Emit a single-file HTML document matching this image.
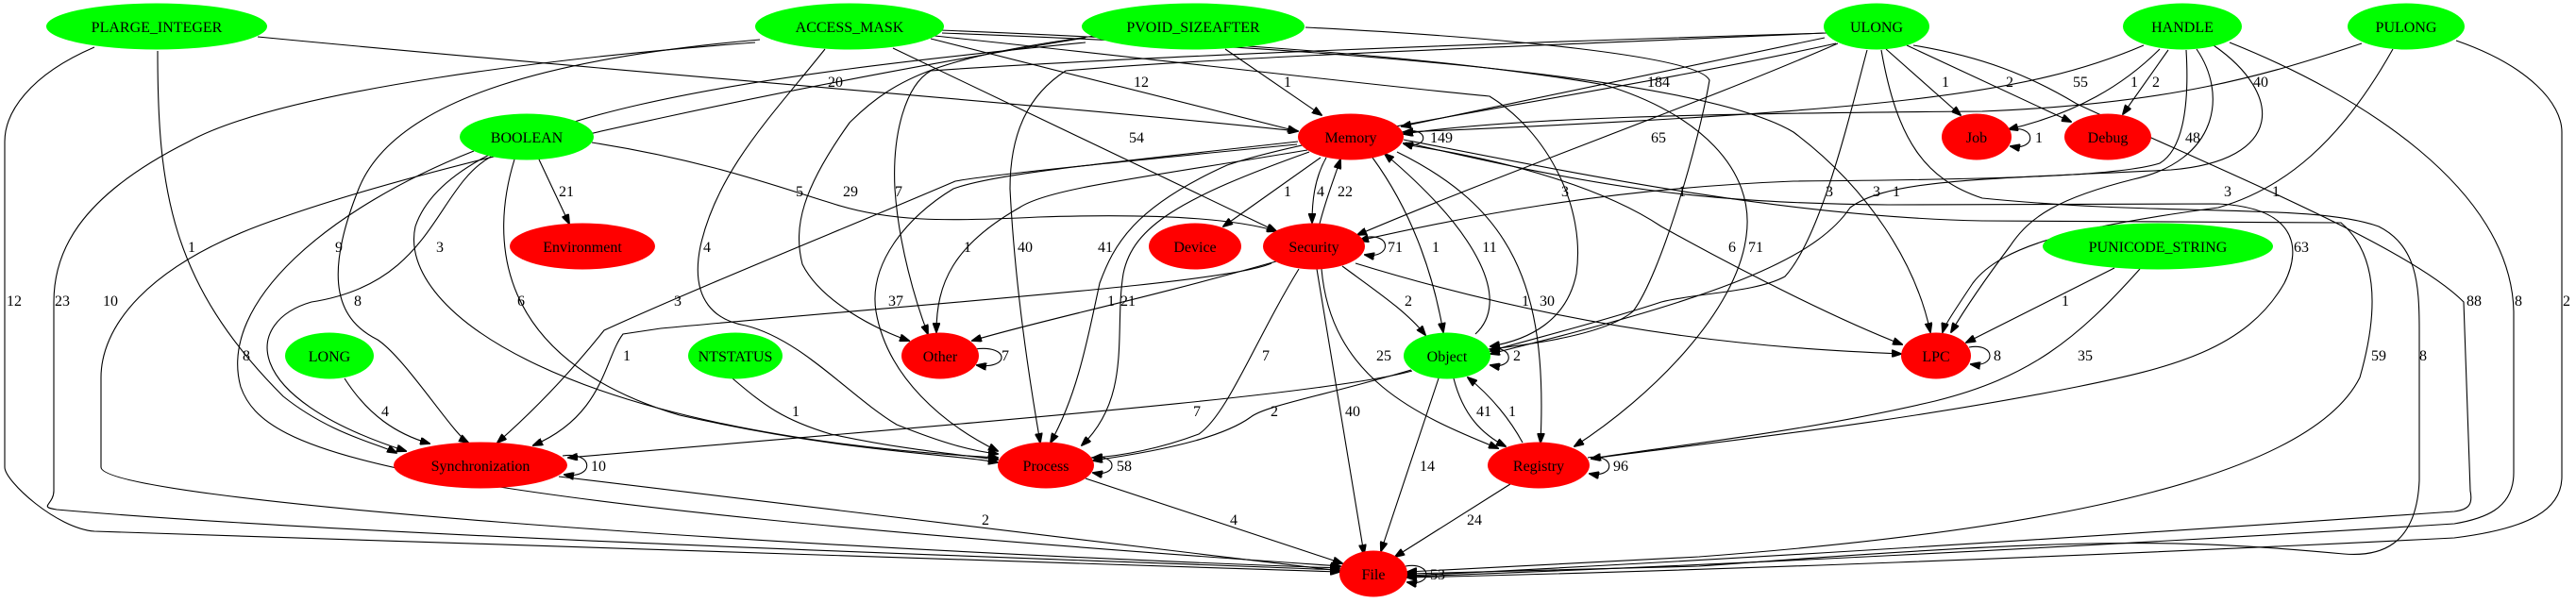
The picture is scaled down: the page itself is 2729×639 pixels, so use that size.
<!DOCTYPE html>
<html><head><meta charset="utf-8"><style>
html,body{margin:0;padding:0;background:#fff;}
svg{display:block;}
text{font-family:"Liberation Serif",serif;font-size:16px;fill:#000;}
.n text{font-size:16px;}
path{fill:none;stroke:#000;stroke-width:1.1;}
</style></head><body>
<svg width="2729" height="639" viewBox="0 0 2729 639" xmlns="http://www.w3.org/2000/svg">
<defs><marker id="a" markerWidth="11" markerHeight="8" refX="10" refY="4" orient="auto" markerUnits="userSpaceOnUse"><path d="M0,0 L11,4 L0,8 z" style="fill:#000;stroke:#000"/></marker></defs>
<g marker-end="url(#a)">
<path d="M100,50 C30,80 5,120 5,150 L5,495 C5,510 60,560 100,563 C600,580 1300,600 1419,606"/>
<path d="M800,45 C600,60 300,95 200,150 C80,210 57,270 57,320 L57,520 C57,535 40,537 60,540 C400,570 1200,595 1419,604"/>
<path d="M1150,40 C900,80 500,160 300,230 C150,280 107,350 107,400 L107,495 C107,530 800,580 1419,602"/>
<path d="M167,54 C167,200 180,300 300,420 C350,460 400,470 420,480"/>
<path d="M273,39 C700,80 1100,110 1375,139"/>
<path d="M805,42 C600,60 420,100 380,200 C340,300 360,340 400,360 C430,380 480,460 496,469"/>
<path d="M1150,45 C800,80 480,120 440,240 C420,330 600,460 1057,485"/>
<path d="M571,169 L603,237"/>
<path d="M520,166 C460,200 460,300 330,320 C260,340 250,420 430,478"/>
<path d="M502,160 C350,220 230,320 255,410 C280,480 400,530 1420,600"/>
<path d="M545,169 C520,250 520,380 720,440 C900,480 1000,480 1057,490"/>
<path d="M365,401 C390,440 420,460 455,470"/>
<path d="M596,483 C630,478 630,508 598,503"/>
<path d="M592,505 C900,540 1200,580 1420,605"/>
<path d="M1496,393 C1400,420 1000,450 602,485"/>
<path d="M1347,279 C1300,300 1000,320 700,348 L660,354 C640,380 640,440 565,472"/>
<path d="M1374,153 C1200,170 1050,185 1012,192 C900,240 750,300 640,350 C600,400 560,440 527,469"/>
<path d="M874,52 C820,120 760,180 742,261 C730,320 760,340 790,345 C850,360 900,420 950,450 C1000,470 1030,478 1057,481"/>
<path d="M1160,38 C1000,60 950,80 900,130 C850,200 840,240 850,280 C870,320 930,350 963,361"/>
<path d="M1935,35 C1600,45 1200,60 986,75 C960,90 945,140 948,200 C952,260 970,320 983,354"/>
<path d="M1932,35 C1600,50 1300,60 1129,75 C1090,100 1070,140 1070,200 C1075,300 1090,400 1102,469"/>
<path d="M1945,46 C1700,100 1400,140 1300,175 C1200,220 1180,260 1165,300 C1150,370 1140,420 1113,469"/>
<path d="M946,51 L1352,245"/>
<path d="M986,41 L1374,139"/>
<path d="M1298,52 L1400,122"/>
<path d="M627,151 C750,170 830,200 880,215 C940,235 1000,235 1100,230 C1250,225 1320,235 1352,245"/>
<path d="M1385,159 C1200,190 1110,200 1080,220 C1010,260 992,300 992,352"/>
<path d="M1375,150 C1150,175 1050,185 1010,200 C960,230 920,280 928,330 C940,400 1000,450 1057,478"/>
<path d="M1387,161 C1250,210 1200,240 1190,290 C1180,350 1200,420 1146,472"/>
<path d="M1352,277 C1200,320 1100,340 1030,361"/>
<path d="M1033,370 C1070,365 1070,392 1035,387"/>
<path d="M1376,285 C1330,360 1300,440 1270,460 C1230,475 1190,483 1158,485"/>
<path d="M776,401 C810,430 830,445 880,460 C950,475 1000,480 1057,487"/>
<path d="M1495,392 C1400,420 1340,430 1325,442 C1300,460 1250,475 1158,488"/>
<path d="M1156,485 C1185,480 1185,506 1158,501"/>
<path d="M1150,507 L1422,597"/>
<path d="M1399,167 L1296,240"/>
<path d="M1485,140 C1515,132 1515,160 1487,152"/>
<path d="M1933,40 L1485,134"/>
<path d="M1947,46 C1800,110 1600,180 1438,249"/>
<path d="M1405,167 C1392,190 1390,215 1390,236"/>
<path d="M1398,237 C1405,210 1413,190 1420,169"/>
<path d="M1454,167 C1500,230 1520,300 1529,352"/>
<path d="M1563,354 C1600,320 1570,250 1467,163"/>
<path d="M1480,161 C1600,220 1640,300 1632,469"/>
<path d="M1436,279 C1700,360 1900,370 2014,375"/>
<path d="M1422,282 C1460,310 1490,330 1510,355"/>
<path d="M1400,285 C1410,400 1500,440 1587,475"/>
<path d="M1395,285 L1445,587"/>
<path d="M1444,252 C1475,245 1475,275 1446,270"/>
<path d="M1577,370 C1605,365 1605,392 1579,387"/>
<path d="M1540,401 C1550,440 1570,460 1595,473"/>
<path d="M1613,469 C1600,445 1580,420 1555,400"/>
<path d="M1524,401 L1463,584"/>
<path d="M1600,513 L1478,590"/>
<path d="M1682,485 C1712,480 1712,507 1684,502"/>
<path d="M1489,600 C1518,595 1518,622 1491,617"/>
<path d="M990,38 C1200,60 1450,90 1578,102 C1640,140 1680,220 1670,290 C1660,340 1620,360 1579,367"/>
<path d="M1383,29 C1600,40 1800,60 1811,85 C1800,150 1760,290 1730,330 C1700,355 1620,365 1579,370"/>
<path d="M1487,153 C1600,170 1700,200 1760,240 C1850,290 1950,340 2015,365"/>
<path d="M995,32 C1200,40 1500,55 1700,90 C1800,120 1860,180 1850,250 C1840,330 1750,420 1668,473"/>
<path d="M1978,53 C1960,120 1930,250 1891,293 C1860,310 1800,310 1760,320 C1700,340 1620,360 1579,372"/>
<path d="M2345,48 C2420,100 2420,170 2300,180 C2100,190 2000,190 1960,220 C1920,280 1800,320 1579,375"/>
<path d="M998,35 C1400,50 1800,80 1900,140 C1980,200 2030,280 2045,352"/>
<path d="M2327,52 C2360,100 2350,170 2260,190 C2180,210 2150,230 2130,260 C2100,300 2080,330 2067,352"/>
<path d="M2535,52 C2480,150 2420,200 2350,220 C2200,240 2120,260 2090,300 C2070,330 2060,345 2058,352"/>
<path d="M2240,284 L2083,363"/>
<path d="M2267,285 C2200,360 2150,400 2050,425 C1900,460 1750,475 1686,486"/>
<path d="M2086,368 C2115,363 2115,390 2088,386"/>
<path d="M1489,151 C1700,200 1800,215 2000,217 L2350,216 C2430,220 2440,260 2420,300 C2380,370 2300,390 2200,410 C2000,450 1800,470 1686,486"/>
<path d="M1487,148 C1700,190 1900,230 2100,234 L2480,236 C2520,270 2520,330 2500,400 C2450,500 2200,560 1800,590 L1491,606"/>
<path d="M1993,53 C2010,150 2040,190 2100,210 C2300,230 2450,215 2520,240 C2560,260 2563,300 2563,350 L2563,509 C2560,580 2520,590 2483,587 C2300,570 2200,570 1800,600 L1491,608"/>
<path d="M2027,48 C2100,60 2150,80 2200,110 C2350,180 2550,260 2610,320 L2617,520 C2620,535 2615,540 2600,542 C2200,570 1800,595 1491,610"/>
<path d="M2362,45 C2500,100 2660,200 2663,330 L2663,501 C2663,540 2630,550 2600,555 C2200,580 1800,600 1491,611"/>
<path d="M2602,43 C2680,70 2714,110 2714,140 L2714,505 C2714,540 2680,560 2600,570 C2200,590 1800,605 1491,612"/>
<path d="M1998,52 L2077,122"/>
<path d="M2020,48 L2194,129"/>
<path d="M2271,48 C2150,100 2000,118 1487,140"/>
<path d="M2288,52 C2250,90 2200,120 2128,137"/>
<path d="M2297,53 L2249,121"/>
<path d="M2502,46 C2400,80 2300,110 2100,118 C1800,120 1600,125 1487,142"/>
<path d="M2316,53 C2320,120 2310,160 2288,173 C2250,185 2150,190 1900,192 C1700,200 1550,230 1440,255"/>
<path d="M2128,137 C2158,132 2158,160 2130,155"/>
</g>
<g class="n">
<g fill="#00ff00">
<ellipse cx="166" cy="28" rx="117" ry="24.5"/>
<ellipse cx="900" cy="28" rx="100" ry="24.5"/>
<ellipse cx="1264" cy="28" rx="118" ry="24.5"/>
<ellipse cx="1988" cy="28" rx="56" ry="24.5"/>
<ellipse cx="2312" cy="28" rx="63" ry="24.5"/>
<ellipse cx="2549" cy="28" rx="62" ry="24.5"/>
<ellipse cx="558" cy="145" rx="71" ry="24.5"/>
<ellipse cx="2286" cy="261" rx="122" ry="24.5"/>
<ellipse cx="349" cy="377" rx="47" ry="24.5"/>
<ellipse cx="779" cy="377" rx="50" ry="24.5"/>
<ellipse cx="1533" cy="377" rx="46" ry="24.5"/>
</g>
<g fill="#ff0000">
<ellipse cx="1431" cy="145" rx="56" ry="24.5"/>
<ellipse cx="2094" cy="145" rx="37" ry="24.5"/>
<ellipse cx="2233" cy="145" rx="46" ry="24.5"/>
<ellipse cx="617" cy="261" rx="77" ry="24.5"/>
<ellipse cx="1266" cy="261" rx="49" ry="24.5"/>
<ellipse cx="1392" cy="261" rx="54" ry="24.5"/>
<ellipse cx="996" cy="377" rx="41" ry="24.5"/>
<ellipse cx="2051" cy="377" rx="37" ry="24.5"/>
<ellipse cx="509" cy="493" rx="92" ry="24.5"/>
<ellipse cx="1108" cy="493" rx="51" ry="24.5"/>
<ellipse cx="1630" cy="493" rx="54" ry="24.5"/>
<ellipse cx="1455" cy="608" rx="36" ry="24.5"/>
</g>
<g text-anchor="middle">
<text x="166" y="34">PLARGE_INTEGER</text>
<text x="900" y="34">ACCESS_MASK</text>
<text x="1264" y="34">PVOID_SIZEAFTER</text>
<text x="1988" y="34">ULONG</text>
<text x="2312" y="34">HANDLE</text>
<text x="2549" y="34">PULONG</text>
<text x="558" y="151">BOOLEAN</text>
<text x="1431" y="151">Memory</text>
<text x="2094" y="151">Job</text>
<text x="2233" y="151">Debug</text>
<text x="617" y="267">Environment</text>
<text x="1266" y="267">Device</text>
<text x="1392" y="267">Security</text>
<text x="2286" y="267">PUNICODE_STRING</text>
<text x="349" y="383">LONG</text>
<text x="779" y="383">NTSTATUS</text>
<text x="996" y="383">Other</text>
<text x="1533" y="383">Object</text>
<text x="2051" y="383">LPC</text>
<text x="509" y="499">Synchronization</text>
<text x="1108" y="499">Process</text>
<text x="1630" y="499">Registry</text>
<text x="1455" y="614">File</text>
</g>
</g>
<g text-anchor="middle">
<text x="15" y="324">12</text><text x="66" y="324">23</text><text x="117" y="324">10</text>
<text x="203" y="267">1</text><text x="885" y="92">20</text><text x="359" y="267">9</text>
<text x="466" y="267">3</text><text x="600" y="208">21</text><text x="379" y="324">8</text>
<text x="261" y="382">8</text><text x="552" y="324">6</text><text x="408" y="441">4</text>
<text x="634" y="499">10</text><text x="1044" y="556">2</text><text x="1268" y="441">7</text>
<text x="664" y="382">1</text><text x="718" y="324">3</text><text x="749" y="267">4</text>
<text x="847" y="208">5</text><text x="952" y="208">7</text><text x="1086" y="267">40</text>
<text x="1171" y="267">41</text><text x="1204" y="151">54</text><text x="1209" y="92">12</text>
<text x="1364" y="92">1</text><text x="901" y="208">29</text><text x="1025" y="267">1</text>
<text x="949" y="324">37</text><text x="1195" y="324">21</text><text x="1177" y="324">1</text>
<text x="1065" y="382">7</text><text x="1341" y="382">7</text><text x="843" y="441">1</text>
<text x="1350" y="441">2</text><text x="1191" y="499">58</text><text x="1307" y="556">4</text>
<text x="1364" y="208">1</text><text x="1527" y="151">149</text><text x="1757" y="92">184</text>
<text x="1757" y="151">65</text><text x="1399" y="208">4</text><text x="1425" y="208">22</text>
<text x="1521" y="267">1</text><text x="1578" y="267">11</text><text x="1639" y="324">30</text>
<text x="1616" y="324">1</text><text x="1492" y="324">2</text><text x="1466" y="382">25</text>
<text x="1433" y="441">40</text><text x="1478" y="267">71</text><text x="1607" y="382">2</text>
<text x="1572" y="441">41</text><text x="1602" y="441">1</text><text x="1512" y="499">14</text>
<text x="1562" y="556">24</text><text x="1717" y="499">96</text><text x="1523" y="614">53</text>
<text x="1658" y="208">3</text><text x="1782" y="208">1</text><text x="1835" y="267">6</text>
<text x="1860" y="267">71</text><text x="1938" y="208">3</text><text x="1988" y="208">3</text>
<text x="2009" y="208">1</text><text x="2360" y="208">3</text><text x="2411" y="208">1</text>
<text x="2188" y="324">1</text><text x="2209" y="382">35</text><text x="2116" y="382">8</text>
<text x="2438" y="267">63</text><text x="2520" y="382">59</text><text x="2567" y="382">8</text>
<text x="2621" y="324">88</text><text x="2668" y="324">8</text><text x="2719" y="324">2</text>
<text x="2061" y="92">1</text><text x="2129" y="92">2</text><text x="2204" y="92">55</text>
<text x="2261" y="92">1</text><text x="2284" y="92">2</text><text x="2395" y="92">40</text>
<text x="2323" y="151">48</text><text x="2160" y="151">1</text>
</g>
</svg>
</body></html>
